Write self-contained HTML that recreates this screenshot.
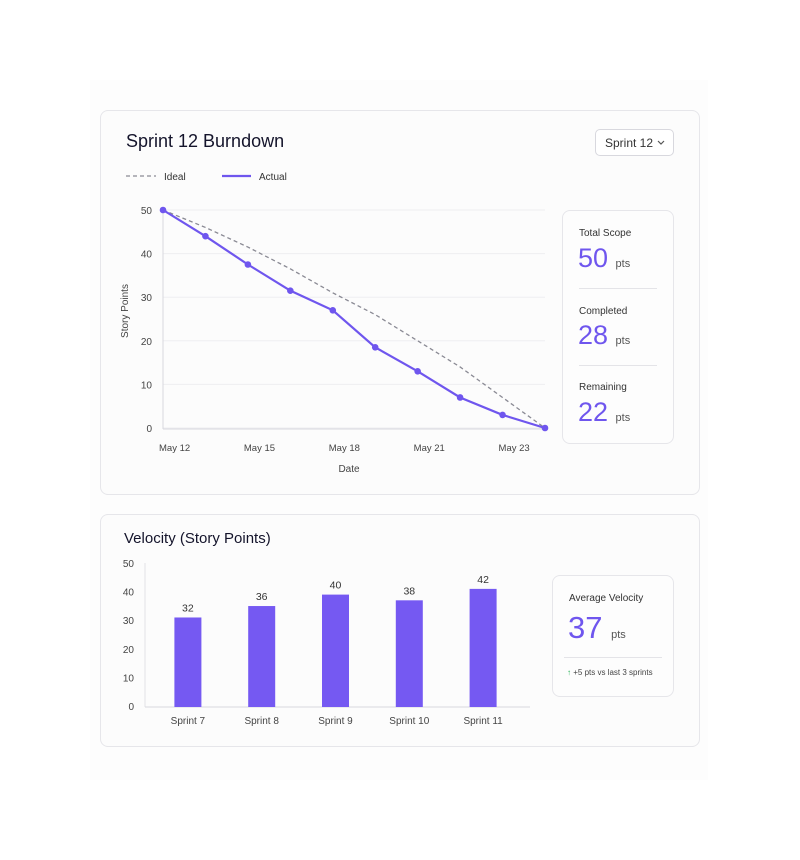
<!DOCTYPE html>
<html><head><meta charset="utf-8"><style>
body{margin:0;width:800px;height:860px;background:#fff;font-family:"Liberation Sans",sans-serif;position:relative;overflow:hidden;color:#1a1a2e}
.bg{position:absolute;left:90px;top:80px;width:618px;height:700px;background:#fdfdfd}
.card{position:absolute;background:#fcfcfc;border:1px solid #e6e6ea;border-radius:8px}
.t{position:absolute;white-space:nowrap}
</style></head><body>
<div class="bg"></div>
<div class="card" style="left:100px;top:110px;width:598px;height:383px"></div>
<div class="t" style="left:126px;top:131px;font-size:18px;color:#14142b">Sprint 12 Burndown</div>
<div class="card" style="left:595px;top:129px;width:77px;height:25px;border-radius:5px;background:#fff;border-color:#d8d8de"><span class="t" style="left:9px;top:6px;font-size:12px;color:#333">Sprint 12</span><svg style="position:absolute;left:61px;top:10px" width="8" height="6"><polyline points="1,1 4,4 7,1" fill="none" stroke="#555" stroke-width="1.2"/></svg></div>
<div class="card" style="left:562px;top:210px;width:110px;height:232px;background:#fdfdfd">
 <div class="t" style="left:16px;top:17px;font-size:10px;color:#333">Total Scope</div>
 <div class="t" style="left:15px;top:32px;font-size:27px;color:#6f56ee">50 <span style="font-size:11px;color:#555">pts</span></div>
 <div style="position:absolute;left:16px;top:77px;width:78px;height:1px;background:#e4e4e8"></div>
 <div class="t" style="left:16px;top:95px;font-size:10px;color:#333">Completed</div>
 <div class="t" style="left:15px;top:109px;font-size:27px;color:#6f56ee">28 <span style="font-size:11px;color:#555">pts</span></div>
 <div style="position:absolute;left:16px;top:154px;width:78px;height:1px;background:#e4e4e8"></div>
 <div class="t" style="left:16px;top:171px;font-size:10px;color:#333">Remaining</div>
 <div class="t" style="left:15px;top:186px;font-size:27px;color:#6f56ee">22 <span style="font-size:11px;color:#555">pts</span></div>
</div>
<div class="card" style="left:100px;top:514px;width:598px;height:231px"></div>
<div class="t" style="left:124px;top:530px;font-size:15px;color:#14142b">Velocity (Story Points)</div>
<div class="card" style="left:552px;top:575px;width:120px;height:120px;background:#fdfdfd">
 <div class="t" style="left:16px;top:17px;font-size:10px;color:#333">Average Velocity</div>
 <div class="t" style="left:15px;top:34px;font-size:31px;color:#6f56ee">37 <span style="font-size:11px;color:#555">pts</span></div>
 <div style="position:absolute;left:11px;top:81px;width:98px;height:1px;background:#e4e4e8"></div>
 <div class="t" style="left:14px;top:92px;font-size:8px;color:#444"><span style="color:#2cb45a;font-weight:bold">&#x2191;</span> +5 pts vs last 3 sprints</div>
</div>
<svg width="800" height="860" style="position:absolute;left:0;top:0" font-family="Liberation Sans, sans-serif">
<g id="burn"></g><g id="vel"></g></svg>
<script>
const days=['May 12','May 13','May 14','May 15','May 16','May 17','May 18','May 19','May 21','May 23'];
const actual=[50,44,37.5,31.5,27,18.5,13,7,3,0];
const ideal=[50,46,41.5,36.5,31,26,20,14,7,0];
const burnTicks=[0,10,20,30,40,50];
const dateLabels=['May 12','May 15','May 18','May 21','May 23'];
const dateLabelIdx=[0,2,4,6,8];
const sprints=['Sprint 7','Sprint 8','Sprint 9','Sprint 10','Sprint 11'];
const velocity=[32,36,40,38,42];
const velTicks=[0,10,20,30,40,50];
const NS='http://www.w3.org/2000/svg';
function mk(p,tag,a,txt){const e=document.createElementNS(NS,tag);for(const k in a)e.setAttribute(k,a[k]);if(txt!=null)e.textContent=txt;p.appendChild(e);return e;}
const B=document.getElementById('burn');
const bx=i=>163+i*(382/(days.length-1));
const by=v=>428-v*(218/50);
burnTicks.forEach(t=>{
 const g=mk(B,'line',{x1:163,x2:545,y1:by(t),y2:by(t),stroke:'#eeeef1'});
 
 
 const l=mk(B,'text',{x:152,y:by(t)+4,'font-size':10,fill:'#444','text-anchor':'end'},t);
 
 
});
mk(B,'line',{x1:163,x2:163,y1:208,y2:429,stroke:'#d8d8de'});
mk(B,'line',{x1:163,x2:545,y1:429,y2:429,stroke:'#d8d8de'});
dateLabels.forEach((d,k)=>{
 const l=mk(B,'text',{x:bx(dateLabelIdx[k])-4,y:451,'font-size':9.5,fill:'#444'},d);
 
 
});
const xt=mk(B,'text',{x:349,y:472,'font-size':10,fill:'#444','text-anchor':'middle'},'Date');


const yt=mk(B,'text',{x:0,y:0,'font-size':10,fill:'#444','text-anchor':'middle',transform:'translate(128,311) rotate(-90)'},'Story Points');


const ip=mk(B,'polyline',{points:ideal.map((v,i)=>bx(i)+','+by(v)).join(' '),fill:'none',stroke:'#8a8a94','stroke-width':1.3,'stroke-dasharray':'4 3'});


const ap=mk(B,'polyline',{points:actual.map((v,i)=>bx(i)+','+by(v)).join(' '),fill:'none',stroke:'#6f56ee','stroke-width':2.2});


actual.forEach((v,i)=>{
 const c=mk(B,'circle',{cx:bx(i),cy:by(v),r:3.3,fill:'#6f56ee'});
 
 
});
mk(B,'line',{x1:126,x2:156,y1:176,y2:176,stroke:'#8a8a94','stroke-width':1.3,'stroke-dasharray':'4 3'});
const li=mk(B,'text',{x:164,y:180,'font-size':10,fill:'#333'},'Ideal');


mk(B,'line',{x1:222,x2:251,y1:176,y2:176,stroke:'#6f56ee','stroke-width':2.2});
const la=mk(B,'text',{x:259,y:180,'font-size':10,fill:'#333'},'Actual');


const V=document.getElementById('vel');
const vy=v=>707-v*(143/50);
const vstep=73.8, vx0=151;
velTicks.forEach(t=>{
 const l=mk(V,'text',{x:134,y:vy(t)+3,'font-size':10,fill:'#444','text-anchor':'end'},t);
 
 
});
mk(V,'line',{x1:145,x2:145,y1:563,y2:707,stroke:'#e2e2e6'});
mk(V,'line',{x1:145,x2:530,y1:707,y2:707,stroke:'#d8d8de'});
sprints.forEach((s,i)=>{
 const cx=vx0+vstep*(i+0.5);
 const r=mk(V,'rect',{x:cx-13.5,y:vy(velocity[i])+2,width:27,height:705-vy(velocity[i]),fill:'#7559f2'});
 
 
 const v=mk(V,'text',{x:cx,y:vy(velocity[i])-4,'font-size':10.5,fill:'#333','text-anchor':'middle'},velocity[i]);
 
 
 const l=mk(V,'text',{x:cx,y:724,'font-size':10,fill:'#444','text-anchor':'middle'},s);
 
 
});
</script>
</body></html>
